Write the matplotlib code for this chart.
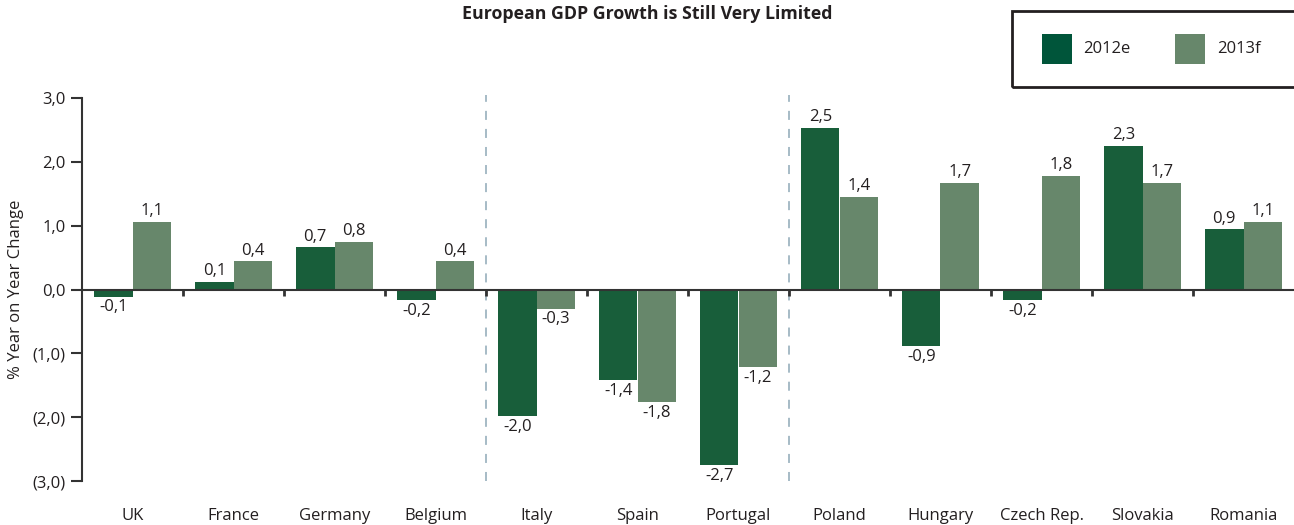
import matplotlib
matplotlib.use("Agg")
import matplotlib.pyplot as plt
from matplotlib.patches import Rectangle

plt.rcParams['font.family'] = ['Open Sans', 'DejaVu Sans']

countries = ["UK", "France", "Germany", "Belgium", "Italy", "Spain", "Portugal",
             "Poland", "Hungary", "Czech Rep.", "Slovakia", "Romania"]
gdp_2012e = [-0.11, 0.12, 0.66, -0.17, -1.98, -1.42, -2.75, 2.53, -0.89, -0.17, 2.25, 0.94]
gdp_2013f = [1.06, 0.44, 0.75, 0.44, -0.30, -1.77, -1.22, 1.45, 1.67, 1.78, 1.67, 1.06]
labels_2012e = ["-0,1", "0,1", "0,7", "-0,2", "-2,0", "-1,4", "-2,7", "2,5", "-0,9", "-0,2", "2,3", "0,9"]
labels_2013f = ["1,1", "0,4", "0,8", "0,4", "-0,3", "-1,8", "-1,2", "1,4", "1,7", "1,8", "1,7", "1,1"]
yticks = [3, 2, 1, 0, -1, -2, -3]
ytick_labels = ["3,0", "2,0", "1,0", "0,0", "(1,0)", "(2,0)", "(3,0)"]
group_dividers = [3.5, 6.5]

c12 = "#185e3a"
c13 = "#67876b"
txt = "#231f20"
fs = 12

fig = plt.figure(figsize=(12.94, 5.25), dpi=100)
ax = fig.add_axes([82/1294, 1-481/525, 1-82/1294, (481-98)/525])

w = 0.38
x = list(range(len(countries)))
ax.bar([i - w/2 for i in x], gdp_2012e, width=w, color=c12, zorder=2)
ax.bar([i + w/2 for i in x], gdp_2013f, width=w, color=c13, zorder=2)

for i in x:
    for off, v, lab in ((-w/2, gdp_2012e[i], labels_2012e[i]), (w/2, gdp_2013f[i], labels_2013f[i])):
        if v >= 0:
            ax.annotate(lab, (i+off, v), xytext=(0, 2), textcoords="offset points",
                        ha="center", va="bottom", fontsize=fs, color=txt)
        else:
            ax.annotate(lab, (i+off, v), xytext=(0, -2), textcoords="offset points",
                        ha="center", va="top", fontsize=fs, color=txt)

ax.set_xlim(-0.5, 11.5)
ax.set_ylim(-3, 3)
ax.set_yticks(yticks)
ax.set_yticklabels(ytick_labels, fontsize=fs, color=txt)
ax.tick_params(axis='y', direction='out', length=8, width=1.5, color="#333333", pad=4)
ax.set_xticks([])
for s in ("top", "right", "bottom"):
    ax.spines[s].set_visible(False)
ax.spines["left"].set_linewidth(1.5)
ax.spines["left"].set_color("#333333")

ax.axhline(0, color="#333333", lw=1.5, zorder=3)
for b in [i + 0.5 for i in range(11)]:
    ax.plot([b, b], [0, -0.1], color="#333333", lw=2, zorder=3, solid_capstyle="butt")

for d in group_dividers:
    ax.plot([d, d], [-3, 3.05], color="#9fb5c2", lw=1.3, ls=(0, (5, 5)), zorder=1, clip_on=False)

for i, c in enumerate(countries):
    ax.text(i, -3.55, c, ha="center", va="center", fontsize=fs, color=txt)

ax.set_ylabel("% Year on Year Change", fontsize=fs, color=txt, labelpad=6)

fig.text(647/1294, 1-14/525, "European GDP Growth is Still Very Limited", ha="center", va="center",
         fontsize=12.8, fontweight="bold", color=txt)

# legend box
fig.add_artist(Rectangle((1012/1294, 1-87/525), 290/1294, 76/525, transform=fig.transFigure,
                         fill=False, edgecolor="#231f20", lw=2))
fig.add_artist(Rectangle((1042/1294, 1-64/525), 30/1294, 30/525, transform=fig.transFigure,
                         facecolor="#00553a", edgecolor="none"))
fig.add_artist(Rectangle((1175/1294, 1-64/525), 30/1294, 30/525, transform=fig.transFigure,
                         facecolor=c13, edgecolor="none"))
fig.text(1083/1294, 1-49/525, "2012e", ha="left", va="center", fontsize=fs, color=txt)
fig.text(1217/1294, 1-49/525, "2013f", ha="left", va="center", fontsize=fs, color=txt)

fig.savefig("out.png", dpi=100)
